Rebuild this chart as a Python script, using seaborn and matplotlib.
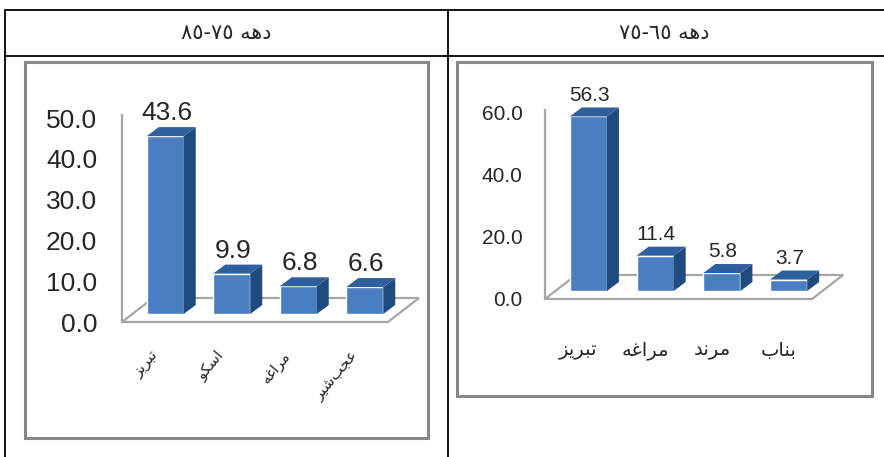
import numpy as np
import pandas as pd
import matplotlib
matplotlib.use("Agg")
import matplotlib.pyplot as plt
import matplotlib.transforms as mtransforms
from matplotlib.patches import Polygon, Rectangle
import seaborn as sns

# --- Data ---
PERIOD_LEFT = "دهه ٧٥-٨٥"
PERIOD_RIGHT = "دهه ٦٥-٧٥"

CITIES_LEFT = ["تبریز", "اسکو", "مراغه", "عجب\u200cشیر"]
VALUES_LEFT = [43.6, 9.9, 6.8, 6.6]
YTICKS_LEFT = [0, 10, 20, 30, 40, 50]

CITIES_RIGHT = ["تبریز", "مراغه", "مرند", "بناب"]
VALUES_RIGHT = [56.3, 11.4, 5.8, 3.7]
YTICKS_RIGHT = [0, 20, 40, 60]

# --- Colours ---
FRONT = "#4A7EC0"
SIDE = "#1F4B80"
TOP = "#2F5F9C"
GRID_GREY = "#A6A6A6"
BOX_GREY = "#878787"

W, H, DPI = 884, 457, 100

# --- Minimal Persian shaping (matplotlib has no bidi / joining) ---
FORMS = {
    'ا': (0xFE8D, 0xFE8E, None, None),
    'ب': (0xFE8F, 0xFE90, 0xFE91, 0xFE92),
    'ت': (0xFE95, 0xFE96, 0xFE97, 0xFE98),
    'ج': (0xFE9D, 0xFE9E, 0xFE9F, 0xFEA0),
    'د': (0xFEA9, 0xFEAA, None, None),
    'ر': (0xFEAD, 0xFEAE, None, None),
    'ز': (0xFEAF, 0xFEB0, None, None),
    'س': (0xFEB1, 0xFEB2, 0xFEB3, 0xFEB4),
    'ش': (0xFEB5, 0xFEB6, 0xFEB7, 0xFEB8),
    'ع': (0xFEC9, 0xFECA, 0xFECB, 0xFECC),
    'غ': (0xFECD, 0xFECE, 0xFECF, 0xFED0),
    'ک': (0xFB8E, 0xFB8F, 0xFB90, 0xFB91),
    'م': (0xFEE1, 0xFEE2, 0xFEE3, 0xFEE4),
    'ن': (0xFEE5, 0xFEE6, 0xFEE7, 0xFEE8),
    'ه': (0xFEE9, 0xFEEA, 0xFEEB, 0xFEEC),
    'و': (0xFEED, 0xFEEE, None, None),
    'ی': (0xFBFC, 0xFBFD, 0xFBFE, 0xFBFF),
}


def shape_word(word):
    out = []
    chars = list(word)
    for i, ch in enumerate(chars):
        if ch not in FORMS:
            if ch != '\u200c':
                out.append(ch)
            continue
        prev = chars[i - 1] if i > 0 else None
        nxt = chars[i + 1] if i + 1 < len(chars) else None
        join_prev = prev in FORMS and FORMS[prev][2] is not None
        join_next = FORMS[ch][2] is not None and nxt in FORMS
        iso, fin, ini, med = FORMS[ch]
        if join_prev and join_next:
            code = med
        elif join_prev:
            code = fin
        elif join_next:
            code = ini
        else:
            code = iso
        out.append(chr(code))
    return ''.join(out[::-1])


def visual(text):
    tokens = []
    for tok in text.split(' ')[::-1]:
        if any(c in FORMS for c in tok):
            tokens.append(shape_word(tok))
        elif '-' in tok:
            tokens.append('-'.join(tok.split('-')[::-1]))
        else:
            tokens.append(tok)
    return ' '.join(tokens)


sns.set_style("white")
plt.rcParams['font.family'] = ['Liberation Sans', 'DejaVu Sans']

fig = plt.figure(figsize=(W / DPI, H / DPI), dpi=DPI)

# background layer in pixel units for the table frame
bg = fig.add_axes([0, 0, 1, 1])
bg.set_xlim(0, W)
bg.set_ylim(H, 0)
bg.axis('off')
bg.plot([5, W], [10, 10], color='black', lw=1.3)
bg.plot([5, W], [56, 56], color='black', lw=1.3)
bg.plot([5, 5], [10, H], color='black', lw=1.3)
bg.plot([448, 448], [10, H], color='black', lw=1.3)
bg.add_patch(Rectangle((25, 62), 403, 376, fill=False, ec=BOX_GREY, lw=2.2))
bg.add_patch(Rectangle((457, 62), 415, 334, fill=False, ec=BOX_GREY, lw=2.2))
bg.text(226, 33, visual(PERIOD_LEFT), ha='center', va='center',
        fontsize=15, family='DejaVu Sans')
bg.text(664, 33, visual(PERIOD_RIGHT), ha='center', va='center',
        fontsize=15, family='DejaVu Sans')


def px_axes(left, top, right, bottom):
    return fig.add_axes([left / W, 1 - bottom / H, (right - left) / W, (bottom - top) / H])


def shift(dx, dy):
    return mtransforms.ScaledTranslation(dx / DPI, dy / DPI, fig.dpi_scale_trans)


def bar3d(ax, cities, values, ytop, yticks, tick_fs, value_fs):
    df = pd.DataFrame({'city': cities, 'value': values})
    sns.barplot(data=df, x='city', y='value', ax=ax, color=FRONT,
                saturation=1, width=0.556, zorder=3)
    ax.set_xlim(-0.5, len(cities) - 0.5)
    ax.set_ylim(0, ytop)

    bbox = ax.get_window_extent()
    sx = bbox.width / len(cities)
    sy = bbox.height / ytop

    # floor
    fdx, fdy = 31 / sx, 24 / sy
    x0, x1 = -0.5, len(cities) - 0.5
    floor = Polygon([(x0, 0), (x1, 0), (x1 + fdx, fdy), (x0 + fdx, fdy)],
                    closed=True, fc='white', ec=GRID_GREY, lw=1.6,
                    clip_on=False, zorder=1)
    ax.add_patch(floor)

    # 3d faces for each bar
    ddx, ddy = 12 / sx, 9 / sy
    tr = ax.transData + shift(10, 8)
    for p, v in zip(list(ax.patches)[:len(values)], values):
        bx, bw, bh = p.get_x(), p.get_width(), p.get_height()
        p.set_transform(tr)
        p.set_clip_on(False)
        side = Polygon([(bx + bw, 0), (bx + bw + ddx, ddy),
                        (bx + bw + ddx, bh + ddy), (bx + bw, bh)],
                       closed=True, fc=SIDE, ec='none', transform=tr,
                       clip_on=False, zorder=3)
        top = Polygon([(bx, bh), (bx + bw, bh), (bx + bw + ddx, bh + ddy),
                       (bx + ddx, bh + ddy)],
                      closed=True, fc=TOP, ec='none', transform=tr,
                      clip_on=False, zorder=3)
        ax.add_patch(side)
        ax.add_patch(top)
        ax.annotate(f"{v:.1f}", xy=(bx + bw / 2 + ddx * 0.1, bh + ddy),
                    xycoords=tr, xytext=(0, 5), textcoords='offset points',
                    ha='center', va='baseline', fontsize=value_fs)

    ax.set_yticks(yticks)
    ax.set_yticklabels([f"{t:.1f}" for t in yticks], fontsize=tick_fs)
    ax.set_xlabel('')
    ax.set_ylabel('')
    for s in ['top', 'right', 'bottom']:
        ax.spines[s].set_visible(False)
    ax.spines['left'].set_color(GRID_GREY)
    ax.spines['left'].set_linewidth(1.6)
    ax.patch.set_alpha(0)
    ax.set_xticks(range(len(cities)))
    ax.set_xticklabels([visual(c) for c in cities], family='DejaVu Sans')


ax_l = px_axes(122, 115, 388, 322)
bar3d(ax_l, CITIES_LEFT, VALUES_LEFT, 50 * 207 / 204, YTICKS_LEFT, 19, 19)
ax_l.tick_params(axis='y', length=0, pad=18)
ax_l.tick_params(axis='x', length=0, pad=22)
plt.setp(ax_l.get_xticklabels(), rotation=50, ha='right', va='center',
         rotation_mode='anchor', fontsize=11)

ax_r = px_axes(545, 110, 812, 299)
bar3d(ax_r, CITIES_RIGHT, VALUES_RIGHT, 60 * 189 / 186, YTICKS_RIGHT, 15, 15)
ax_r.tick_params(axis='y', length=0, pad=16)
ax_r.tick_params(axis='x', length=0, pad=30)
plt.setp(ax_r.get_xticklabels(), fontsize=14)

fig.savefig('out.png', dpi=DPI)
